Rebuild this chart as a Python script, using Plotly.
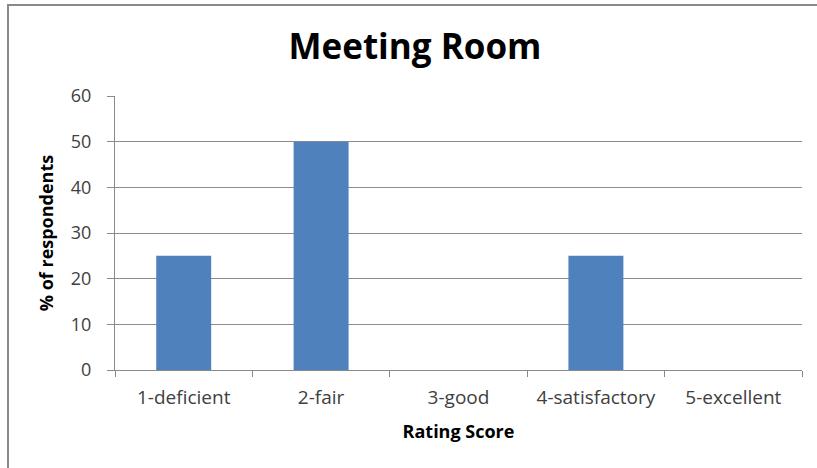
import plotly.graph_objects as go

categories = ["1-deficient", "2-fair", "3-good", "4-satisfactory", "5-excellent"]
values = [25, 50, 0, 25, 0]
y_ticks = [0, 10, 20, 30, 40, 50, 60]

W, H = 817, 468
L, R, T, B = 115, 15, 96, 98
pw, ph = W - L - R, H - T - B

def px_x(x):
    return (x - L) / pw

def px_y(y):
    return 1 + (T - y) / ph

FONT = "Open Sans, Lato, sans-serif"

fig = go.Figure(go.Bar(x=categories, y=values, marker_color="#4f81bd", marker_line_width=0))

border_path = "M {x0},{y1} L {x0},{y0} L {x1},{y0}".format(
    x0=px_x(8), y0=px_y(5), x1=px_x(817), y1=px_y(468))

fig.update_layout(
    width=W, height=H,
    margin=dict(l=L, r=R, t=T, b=B),
    paper_bgcolor="white", plot_bgcolor="white",
    bargap=0.6,
    showlegend=False,
    font=dict(family=FONT, color="#000000"),
    title=dict(text="<b>Meeting Room</b>", x=415 / W, xanchor="center",
               y=1 - 47 / H, yanchor="middle", font=dict(size=35, color="#000000")),
    shapes=[
        dict(type="path", xref="paper", yref="paper", path=border_path,
             line=dict(color="#898989", width=2)),
    ],
)

fig.update_xaxes(
    type="category", tickson="boundaries", ticks="outside", ticklen=6,
    tickcolor="#898989", showline=True, linecolor="#898989", linewidth=1,
    tickfont=dict(size=19, color="#404040"), showgrid=False, ticklabelstandoff=10,
    title=dict(text="<b>Rating Score</b>", font=dict(size=18), standoff=16),
)
fig.update_yaxes(
    range=[0, 60], tickvals=y_ticks, ticks="outside", ticklen=7,
    tickcolor="#898989", showline=True, linecolor="#898989", linewidth=1,
    showgrid=True, gridcolor="#8c8c8c", gridwidth=1, zeroline=False,
    tickfont=dict(size=18, color="#404040"), ticklabelstandoff=12,
    title=dict(text="<b>% of respondents</b>", font=dict(size=18), standoff=12),
)

fig.write_html(
    "out.html", config={"displayModeBar": False},
    post_script="document.documentElement.style.overflow='hidden';document.body.style.margin='0';document.body.style.overflow='hidden';",
)
